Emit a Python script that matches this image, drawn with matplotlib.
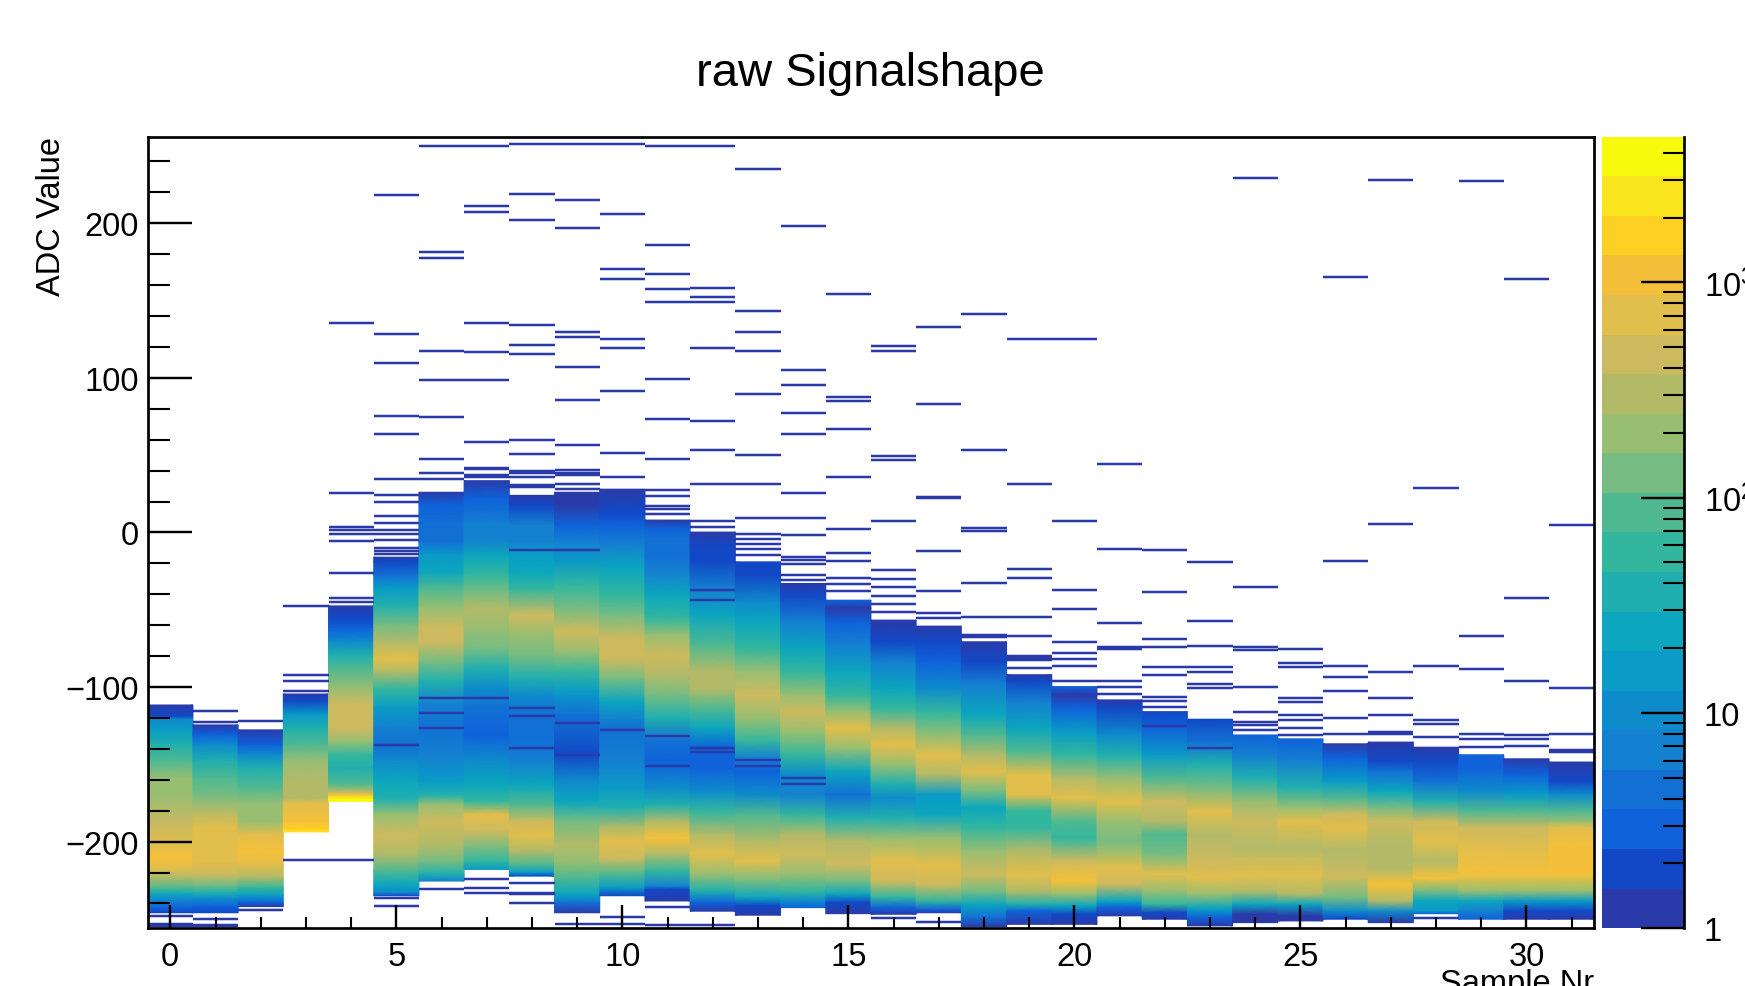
import numpy as np
import matplotlib
matplotlib.use('Agg')
import matplotlib.pyplot as plt
from matplotlib.colors import ListedColormap, LogNorm
from matplotlib.cm import ScalarMappable
from matplotlib.ticker import FixedLocator, NullFormatter, FixedFormatter

plt.rcParams['font.family'] = ['Liberation Sans', 'DejaVu Sans']
plt.rcParams['mathtext.default'] = 'regular'
plt.rcParams['mathtext.fontset'] = 'custom'
plt.rcParams['mathtext.rm'] = 'Liberation Sans'

# ── Data ──────────────────────────────────────────────────────────────────────
samples = list(range(32))

# ADC position and bin count along the filled part of each sample
col_adc = [
    [-111.6,-119,-121,-127,-137,-148,-159,-170,-180,-191,-202,-210.5,-217,-223,-230,-234,-238.5,-243,-246],
    [-124.5,-131,-137.5,-148,-159,-170,-180,-191,-202,-212.6,-221,-228,-233,-237,-242,-246],
    [-127.7,-137.5,-144,-152.4,-165,-176,-187,-195.4,-206,-214.8,-223,-230,-235,-239.5,-242],
    [-104.5,-109,-118,-126.6,-137.5,-148,-161,-172,-175,-187,-192,-193.7],
    [-47.5,-55.6,-62,-70.7,-79.3,-88,-101,-111.6,-126.6,-135,-144,-152.4,-163,-168.5,-170.7,-172.8,-173.9],
    [-16,-19,-27.7,-36.3,-47,-60,-70.7,-81.5,-90,-101,-113.7,-126.6,-137.5,-148,-161,-172,-182.5,-195.4,-208,-219,-227.7,-233,-235],
    [26,17.5,4.6,-6,-15,-25.5,-36.3,-49,-62,-70.7,-83.6,-96.5,-111.6,-126.6,-144,-161,-169.6,-176,-187,-202,-212.6,-221,-225.5],
    [33.5,22,13,5,-4,-15,-27.7,-38.4,-49,-62,-75,-88,-101,-113.7,-131,-148,-163,-174,-182.5,-193,-204,-212.6,-218],
    [24,17.5,4.6,-6,-12.6,-25.5,-36.3,-53.5,-66.4,-79.3,-94.4,-105,-118,-135,-148,-163,-176,-187,-195.4,-206,-214.8,-220,-222.3],
    [26,17.5,4.6,-6,-19,-34,-49,-64,-77,-90,-103,-118,-144,-161,-174,-187,-202,-212.6,-223,-234,-239.5,-246],
    [28,13,4.6,-8,-23,-40.6,-53.5,-68.5,-81.5,-94.4,-109.4,-126.6,-148,-165,-178,-191,-199.7,-210.5,-221,-229.8,-235],
    [8,2.4,-4,-15,-25.5,-40.6,-55.6,-66.4,-79.3,-92,-105,-120,-135,-148,-165,-176,-187,-197.6,-208,-219,-229,-231,-238.4],
    [0.25,-10.5,-19,-36.3,-53.5,-73,-90,-101,-113.7,-126.6,-139.5,-152.4,-167.5,-180.4,-195.4,-208,-221,-232,-239.5,-245],
    [-19,-27.7,-45,-58,-75,-90,-105,-120,-135,-146,-154.5,-169.6,-182.5,-199.7,-212.6,-225.5,-236,-241.6,-247.6],
    [-33,-40.6,-58,-75,-90,-105,-116,-129,-144,-156.7,-169.6,-182.5,-195.4,-208,-221,-232,-238.4,-242.7],
    [-43.8,-49,-58,-73,-90,-105,-116,-126.6,-139.5,-154.5,-169.6,-184.6,-199.7,-214.8,-225.5,-234,-239.5,-246.6],
    [-56.7,-70.7,-83.6,-101,-113.7,-126.6,-137.3,-150,-163,-172,-184.6,-197.6,-212.6,-225.5,-236,-242.7,-247],
    [-60.6,-70.7,-83.6,-101,-116,-126.6,-144,-156.7,-169.6,-182.5,-197.6,-214.8,-227.7,-238.4,-244,-246],
    [-70.7,-83.6,-98.6,-118,-131,-144,-154.5,-167.5,-178,-191,-206,-221,-232,-240.6,-249,-255],
    [-92,-96,-109.4,-126.6,-141.6,-156.7,-169.6,-180.4,-191,-206,-221,-232,-240.6,-245,-253.5],
    [-99.7,-105,-113.7,-129,-144,-159,-171.7,-187,-197.6,-212.6,-225.5,-234,-241.6,-247,-253.5],
    [-108.3,-113.7,-131,-144,-159,-174,-187,-199.7,-217,-227.7,-238.4,-242.7,-248],
    [-115.9,-126.6,-144,-159,-174,-187,-195.4,-208,-221,-232,-240.6,-246,-250.2],
    [-120.8,-135,-150,-165,-180.4,-195.4,-212.6,-223.4,-234,-243,-249,-254.5],
    [-131,-144,-159,-174,-187,-204,-221,-232,-240.6,-247,-252.4],
    [-133.5,-148,-165,-178,-187,-204,-221,-234,-240.6,-248,-251.3],
    [-136.7,-146,-161,-172,-182.5,-191,-206,-223,-236,-245,-250.2],
    [-135.6,-148,-154.5,-167.5,-178,-187,-202,-217,-227.7,-238.4,-245,-252.4],
    [-138.9,-148,-161,-174,-187,-199.7,-212.6,-223.4,-232,-238.4,-245,-246.6],
    [-143.8,-152.4,-167.5,-180.4,-191,-204,-221,-232,-238.4,-245,-250.2],
    [-146.4,-156.7,-169.6,-180.4,-191,-206,-221,-232,-238.4,-245,-250.2],
    [-148.5,-161,-169.6,-180.4,-187,-191,-204,-221,-232,-238.4,-245,-250.2],
]
col_cnt = [
    [1,2,10,15,36,85,200,200,300,460,700,1100,700,300,85,24,6,3,2],
    [1,3,10,36,85,130,300,700,700,700,460,130,36,10,3,2],
    [1,3,10,36,85,200,200,700,1100,700,300,55,15,3,1],
    [1,2,15,36,85,200,300,300,700,1100,1650,2500],
    [1,2,3,10,36,85,200,460,460,200,55,36,85,460,1650,3800,3800],
    [1,2,4,15,36,130,300,700,300,55,15,6,4,10,24,36,200,460,300,85,24,10,2],
    [1,3,4,4,15,24,85,200,460,460,130,36,6,4,6,15,36,200,460,300,130,36,6],
    [1,3,4,6,6,24,55,130,300,200,130,36,10,4,3,10,24,55,700,460,130,55,15],
    [1,2,6,6,15,24,55,460,200,130,36,10,4,4,6,24,85,460,700,300,85,15,2],
    [1,1,3,6,15,55,130,460,200,55,15,4,2,10,24,130,300,200,85,24,4,1],
    [1,2,3,6,24,55,130,460,460,130,24,4,6,15,36,300,700,460,85,15,2],
    [1,3,4,4,6,24,55,200,460,300,130,36,4,3,10,36,300,1100,300,55,6,2,1],
    [1,2,2,6,24,85,300,300,85,24,3,3,10,55,300,700,200,36,3,1],
    [2,2,10,24,55,200,460,200,55,6,3,10,85,300,700,130,24,2,1],
    [1,2,6,24,55,200,460,200,55,10,6,55,300,460,200,55,10,3],
    [3,1,3,6,24,55,200,700,200,24,4,36,300,460,130,24,2,1],
    [1,2,6,24,55,300,700,200,36,10,36,200,700,460,55,3,1],
    [1,2,3,10,55,130,700,300,15,24,200,700,460,55,3,1],
    [1,2,6,24,85,300,700,130,24,55,200,460,130,24,4,1],
    [1,2,6,24,85,700,700,55,55,300,700,300,36,3,1],
    [3,1,3,15,55,300,700,85,55,460,1100,200,24,2,1],
    [1,2,10,36,200,700,200,130,700,460,24,3,1],
    [2,3,15,85,460,300,85,130,700,200,55,2,1],
    [2,4,36,130,700,300,460,700,200,24,3,1],
    [3,6,36,200,460,300,700,300,24,1,1],
    [3,6,36,200,700,300,700,300,24,1,1],
    [1,3,15,85,460,700,300,460,130,10,2],
    [1,2,4,24,130,460,300,300,1100,300,10,1],
    [1,2,4,36,460,700,300,1100,130,24,15,3],
    [3,3,10,85,460,700,1100,200,24,6,3],
    [1,3,15,85,460,700,1100,200,15,2,1],
    [1,2,10,85,200,700,1100,1100,200,15,2,1],
]

# bins holding only a count or two: stray lines and dark streaks
single_adc = [
    [-248,-253.5,-254.5],
    [-115.2,-122.3,-249.8,-253.7,-254.7],
    [-122,-244],
    [-47.5,-92.2,-96.3,-102.5,-212],
    [135.4,25.7,3.6,1.8,-0.8,-5.3,-26.2,-42.3,-45.3,-212],
    [218,128.5,109.4,75.6,63.6,34.8,24,19.7,10.7,5.8,1.8,-0.8,-4.7,-10,-12,-14,-137.4,-236.2,-241.8],
    [250.2,181.2,177.3,117.5,98.6,74.5,47.6,38.6,34.8,-107,-117,-126.6,-230.9],
    [250.2,211,207,135.4,116.5,98.6,58.6,42,40.8,37.3,35.6,-107,-224.4,-229.8,-233],
    [251,219.2,202,134.3,121.4,115.4,59.5,50.7,39.7,38.5,35.6,30.5,29.2,-11.6,-113.7,-119,-139.5,-227,-233,-234.2,-239.9],
    [251,215.1,197,129.4,126.3,107.2,85.5,56.5,40.1,38.4,36.9,31.5,28.3,-11.6,-123.4,-143.8,-253],
    [251,206,170.2,164.2,125.3,119.3,91.3,51.5,35.6,-127.7,-248.7,-253.5],
    [250.2,186,167.2,157.3,149.3,99.5,73.5,47.7,27.7,23.6,17,15,12,-131.5,-151.3,-242,-253.9],
    [250.2,158.2,152.4,149.3,119.3,72.4,53.5,31.5,7.7,3.8,-37,-43.4,-139.5,-142,-253.9],
    [235.1,143.3,129.4,117.5,89.4,50.4,31.5,9.6,-0.8,-4,-7.3,-10.5,-14.4,-147.5,-150.9],
    [198.2,105.3,95.4,77.5,63.6,25.5,9.6,-1.5,-16,-17.5,-20.6,-27.3,-30.9,-158.9,-163],
    [154.3,87.4,85.3,66.6,35.6,2.4,-13.3,-18.2,-29.2,-33.5,-37.8],
    [120.3,117.5,49.6,46.6,7.7,-24.5,-30.3,-35.2,-41.2,-46.4,-51.4,-249.6],
    [133.2,83.3,23.1,22,-12.2,-38,-52.4,-55.2,-251.7],
    [141.4,53.5,3,1,-33,-54.6,-66.4,-67.8],
    [125.3,31.5,-23.4,-29.2,-54.6,-66.8,-79.7,-81,-82.5,-87.9],
    [125.3,7.7,-37.4,-49.2,-71.1,-78.2,-82.1,-86.2,-96],
    [44.6,-10.5,-58.4,-73.9,-75.5,-96,-100.2,-104.5],
    [-11.6,-38.4,-69.2,-74.1,-87.2,-92.2,-106.2,-109.2,-112.6,-125.5],
    [-19.3,-57.4,-73.3,-87.2,-90.3,-98,-100.8,-139.5],
    [229.1,-35.4,-74,-76,-99.7,-116,-122.3,-124.5,-127.7],
    [-75.2,-84.2,-87.2,-107.3,-110,-118.2,-121.2,-126.2,-130.9],
    [165.3,-18.5,-86.2,-93.3,-102.3,-120.2,-130.3],
    [228,5.5,-90.3,-107.3,-118.2,-129.4,-130.5],
    [28.5,-86.2,-121.2,-124.2,-132.2,-249.6],
    [227.2,-67.3,-88.3,-130.3,-133.3,-138.9],
    [164.2,-42.5,-96.3,-131.3,-133.3,-138.2],
    [4.6,-100.4,-130.3,-140.6,-141.8],
]

band_colors = ['#2A3BA9','#1248C6','#0F62DA','#1270D4','#1480D0','#0E8BCB','#0A9BC6','#0CA6BE',
               '#20AFAE','#33B69E','#50B890','#76BC82','#98BE72','#B2BA68','#CEBA5E','#E2BE4C',
               '#F4C03A','#FFD024','#FAE41E','#F8FA0D']

title = 'raw Signalshape'
xlabel = 'Sample Nr'
ylabel = 'ADC Value'
zlabels = ['1', '10', '$10^{2}$', '$10^{3}$']

# ── Layout, pixel box of the reference ────────────────────────────────────────
W, H = 1745, 987
PT = 72 / 100
fig = plt.figure(figsize=(W / 100, H / 100), dpi=100)
ax = fig.add_axes([147.7 / W, 1 - 929.2 / H, 1446.5 / W, 791.5 / H])
cax = fig.add_axes([1602 / W, 1 - 929.2 / H, 82 / W, 791.5 / H])

cmap = ListedColormap(band_colors)
norm = LogNorm(vmin=1, vmax=4755)

# ── Histogram ─────────────────────────────────────────────────────────────────
for s, adc, cnt in zip(samples, col_adc, col_cnt):
    X, Y = np.meshgrid([s - 0.5, s + 0.5], adc)
    C = np.column_stack([cnt, cnt])
    ax.pcolormesh(X, Y, C, shading='gouraud', cmap=cmap, norm=norm, zorder=1)

for s, adc in zip(samples, single_adc):
    ax.hlines(adc, s - 0.5, s + 0.5, color=band_colors[0], lw=2.5 * PT, zorder=2)

ax.set_xlim(-0.5, 31.5)
ax.set_ylim(-256, 256)
ax.set_axisbelow(False)

ax.xaxis.set_major_locator(FixedLocator(range(0, 31, 5)))
ax.xaxis.set_minor_locator(FixedLocator(range(0, 32)))
ax.yaxis.set_major_locator(FixedLocator([-200, -100, 0, 100, 200]))
ax.yaxis.set_minor_locator(FixedLocator(range(-240, 241, 20)))
ax.set_yticklabels(['\u2212200', '\u2212100', '0', '100', '200'])

ax.tick_params(axis='x', which='major', direction='in', length=23 * PT, width=2.4 * PT,
               labelsize=23.5, pad=13 * PT, top=False)
ax.tick_params(axis='x', which='minor', direction='in', length=11.5 * PT, width=2.1 * PT, top=False)
ax.tick_params(axis='y', which='major', direction='in', length=44 * PT, width=2.4 * PT,
               labelsize=23.5, pad=9 * PT, right=False)
ax.tick_params(axis='y', which='minor', direction='in', length=22 * PT, width=2.1 * PT, right=False)
for sp in ax.spines.values():
    sp.set_linewidth(2.7 * PT)
    sp.set_zorder(5)

# ── Colour scale ──────────────────────────────────────────────────────────────
cb = fig.colorbar(ScalarMappable(norm=norm, cmap=cmap), cax=cax)
cb.outline.set_visible(False)
cb.ax.yaxis.set_ticks_position('right')
cb.ax.yaxis.set_major_locator(FixedLocator([1, 10, 100, 1000]))
cb.ax.yaxis.set_major_formatter(FixedFormatter(zlabels))
cb.ax.yaxis.set_minor_locator(FixedLocator([2, 3, 4, 5, 6, 7, 8, 9, 20, 30, 40, 50, 60, 70, 80, 90,
                                            200, 300, 400, 500, 600, 700, 800, 900, 2000, 3000, 4000]))
cb.ax.yaxis.set_minor_formatter(NullFormatter())
cb.ax.tick_params(which='major', direction='in', length=43 * PT, width=2.4 * PT, labelsize=23.5, pad=20 * PT)
cb.ax.tick_params(which='minor', direction='in', length=21.5 * PT, width=2.1 * PT)
cax.spines['right'].set_visible(True)
cax.spines['right'].set_linewidth(2.7 * PT)

# ── Texts ─────────────────────────────────────────────────────────────────────
fig.text(870 / W, 1 - 73.5 / H, title, fontsize=34, ha='center', va='center')
fig.text(51.5 / W, 1 - 137 / H, ylabel, fontsize=23.5, rotation=90, ha='center', va='top')
fig.text(1594 / W, 1 - 993 / H, xlabel, fontsize=23.5, ha='right', va='baseline')

fig.savefig('out.png', dpi=100)
